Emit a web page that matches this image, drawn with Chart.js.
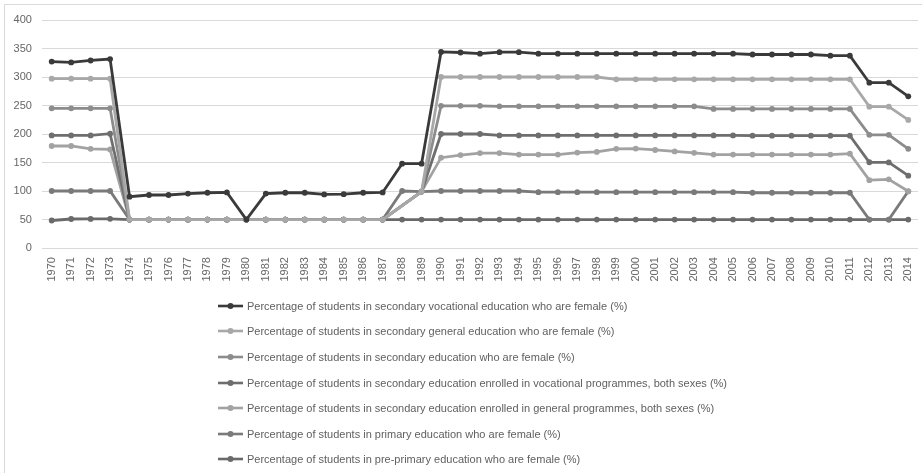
<!DOCTYPE html>
<html>
<head>
<meta charset="utf-8">
<script src="https://cdn.jsdelivr.net/npm/chart.js@4.4.1/dist/chart.umd.min.js"></script>
<style>
  html, body { margin: 0; padding: 0; background: #fff; overflow: hidden; width: 922px; height: 473px; }
  #wrap { position: relative; width: 922px; height: 473px; }
  #frame { position: absolute; left: 4px; top: 4px; width: 940px; height: 490px; border: 1px solid #d9d9d9; }
  #chart { position: absolute; left: 0; top: 0; }
  #legend { position: absolute; left: 218px; top: 293px; margin: 0; padding: 0; list-style: none;
            font: 11px "Liberation Sans", Arial, sans-serif; color: #606060; }
  #legend li { height: 25.6px; display: flex; align-items: center; white-space: nowrap; }
  #legend svg { margin-right: 4px; flex: none; }
</style>
</head>
<body>
<div id="wrap">
  <div id="frame"></div>
  <canvas id="chart" width="922" height="473"></canvas>
  <ul id="legend"></ul>
</div>
<script>
// Category axis
const years = ['1970','1971','1972','1973','1974','1975','1976','1977','1978','1979',
               '1980','1981','1982','1983','1984','1985','1986','1987','1988','1989',
               '1990','1991','1992','1993','1994','1995','1996','1997','1998','1999',
               '2000','2001','2002','2003','2004','2005','2006','2007','2008','2009',
               '2010','2011','2012','2013','2014'];

// Value axis ticks
const yTickMin = 0, yTickMax = 400, yTickStep = 50;

// Series (%), listed from the bottom of the stack upwards; null = no value that year
const prePrimaryFemale = [48.3, 50.9, 51.0, 51.2, 50, 50, 50, 50, 50, 50,
                          50, 50, 50, 50, 50, 50, 50, 50, 50, 50,
                          50, 50, 50, 50, 50, 50, 50, 50, 50, 50,
                          50, 50, 50, 50, 50, 50, 50, 50, 50, 50,
                          50, 50, 50, 50, 50];

const primaryFemale = [51.7, 49.1, 49.0, 48.8, 0, 0, 0, 0, 0, 0,
                       0, 0, 0, 0, 0, 0, 0, 0, 50, 49,
                       50, 50, 50, 50, 50, 48, 48, 48, 48, 48,
                       48, 48, 48, 48, 48, 48, 47, 47, 47, 47,
                       47, 47, 0, 0, 49.5];

const generalProgrammes = [79, 79, 74, 73, 0, 0, 0, 0, 0, 0,
                           0, 0, 0, 0, 0, 0, 0, 0, null, 0,
                           58.5, 63, 66.5, 66.5, 64, 66, 66, 69.5, 70.5, 76,
                           76.5, 74, 71.5, 69, 66, 66, 67, 67, 67, 67,
                           67, 68.5, 69, 70.5, 0];

const vocationalProgrammes = [18.5, 18.5, 23.5, 27.5, 0, 0, 0, 0, 0, 0,
                              0, 0, 0, 0, 0, 0, 0, 0, null, 0,
                              41.5, 37, 33.5, 31, 33.5, 33.5, 33.5, 30, 29, 23.5,
                              23, 25.5, 28, 30.5, 33.5, 33.5, 33, 33, 33, 33,
                              33, 31.5, 31.5, 29.7, 27.5];

const secondaryFemale = [47.5, 47.5, 47.5, 44.5, 0, 0, 0, 0, 0, 0,
                         0, 0, 0, 0, 0, 0, 0, 0, null, 0,
                         49.5, 49.5, 49.5, 51, 51, 51, 51, 51, 51, 51,
                         51, 51, 51, 51, 46.5, 46.5, 47, 47, 47, 47,
                         47, 47, 48, 48.3, 47];

const generalFemale = [52, 52, 52, 52, 0, 0, 0, 0, 0, 0,
                       0, 0, 0, 0, 0, 0, 0, 0, null, 0,
                       50.5, 50.5, 50.5, 51.5, 51.5, 51.5, 51.5, 51.5, 51.5, 47.5,
                       47.5, 47.5, 47.5, 47.5, 52, 52, 52, 52, 52, 52,
                       52, 52, 49.5, 49.5, 50.7];

const vocationalFemale = [30, 28.5, 32, 34.5, 40, 43, 43, 45.5, 47, 47.5,
                          0, 45.5, 47, 47, 44, 44.5, 47, 47.5, 48, 49,
                          44, 43, 41, 43.5, 43.5, 41, 41, 41, 41, 45,
                          45, 45, 45, 45, 45, 45, 43.5, 43.5, 43.5, 43.5,
                          41.5, 41.5, 42, 42, 41.5];

// Series names, from the top of the stack downwards
const seriesNames = [
  'Percentage of students in secondary vocational education who are female (%)',
  'Percentage of students in secondary general education who are female (%)',
  'Percentage of students in secondary education who are female (%)',
  'Percentage of students in secondary education enrolled in vocational programmes, both sexes (%)',
  'Percentage of students in secondary education enrolled in general programmes, both sexes (%)',
  'Percentage of students in primary education who are female (%)',
  'Percentage of students in pre-primary education who are female (%)'
];

const seriesColors = ['#3a3a3a', '#a8a8a8', '#8c8c8c', '#6e6e6e', '#a2a2a2', '#7a7a7a', '#6a6a6a'];

// bottom-to-top stack order
const stackOrder = [
  { data: prePrimaryFemale,      name: seriesNames[6], color: seriesColors[6] },
  { data: primaryFemale,         name: seriesNames[5], color: seriesColors[5] },
  { data: generalProgrammes,     name: seriesNames[4], color: seriesColors[4] },
  { data: vocationalProgrammes,  name: seriesNames[3], color: seriesColors[3] },
  { data: secondaryFemale,       name: seriesNames[2], color: seriesColors[2] },
  { data: generalFemale,         name: seriesNames[1], color: seriesColors[1] },
  { data: vocationalFemale,      name: seriesNames[0], color: seriesColors[0] }
];

const datasets = stackOrder.map(s => ({
  label: s.name,
  data: s.data,
  borderColor: s.color,
  backgroundColor: s.color,
  pointBackgroundColor: s.color,
  pointBorderColor: s.color,
  borderWidth: 2.8,
  pointRadius: 2.9,
  pointBorderWidth: 0,
  tension: 0,
  fill: false,
  spanGaps: true
}));

// Paint the stack from the bottom series up, so upper series sit on top where lines coincide
const bottomUpDrawing = {
  id: 'bottomUpDrawing',
  beforeDatasetsDraw(chart) {
    chart.getSortedVisibleDatasetMetas().forEach(meta => chart._drawDataset(meta));
    return false;
  }
};

const tickFont = { family: '"Liberation Sans", Arial, sans-serif', size: 11 };
const yearFont = { family: '"Liberation Sans", Arial, sans-serif', size: 11, lineHeight: 1 };

const chart = new Chart(document.getElementById('chart'), {
  type: 'line',
  data: { labels: years, datasets },
  options: {
    responsive: false,
    animation: false,
    layout: { padding: { left: 3.6, right: 0.5, top: 20, bottom: 191.5 } },
    plugins: { legend: { display: false }, tooltip: { enabled: false } },
    scales: {
      x: {
        offset: true,
        grid: { display: false, drawTicks: true, tickLength: 9 },
        border: { display: false },
        ticks: { autoSkip: false, minRotation: 90, maxRotation: 90, padding: 0,
                 color: '#666', font: yearFont }
      },
      y: {
        stacked: true,
        min: yTickMin,
        max: yTickMax,
        grid: { color: '#d9d9d9', lineWidth: 1, drawTicks: false },
        border: { display: false },
        ticks: { stepSize: yTickStep, padding: 10, color: '#666', font: tickFont }
      }
    }
  },
  plugins: [bottomUpDrawing]
});

// Legend list, top series first
const legendEl = document.getElementById('legend');
const items = Chart.defaults.plugins.legend.labels.generateLabels(chart).slice().reverse();
items.forEach(item => {
  const li = document.createElement('li');
  const svgNS = 'http://www.w3.org/2000/svg';
  const svg = document.createElementNS(svgNS, 'svg');
  svg.setAttribute('width', '25');
  svg.setAttribute('height', '8');
  const line = document.createElementNS(svgNS, 'line');
  line.setAttribute('x1', '0'); line.setAttribute('x2', '25');
  line.setAttribute('y1', '4'); line.setAttribute('y2', '4');
  line.setAttribute('stroke', item.strokeStyle);
  line.setAttribute('stroke-width', '2.6');
  const dot = document.createElementNS(svgNS, 'circle');
  dot.setAttribute('cx', '12.5'); dot.setAttribute('cy', '4'); dot.setAttribute('r', '3');
  dot.setAttribute('fill', item.strokeStyle);
  svg.appendChild(line); svg.appendChild(dot);
  const span = document.createElement('span');
  span.textContent = item.text;
  li.appendChild(svg); li.appendChild(span);
  legendEl.appendChild(li);
});
</script>
</body>
</html>
